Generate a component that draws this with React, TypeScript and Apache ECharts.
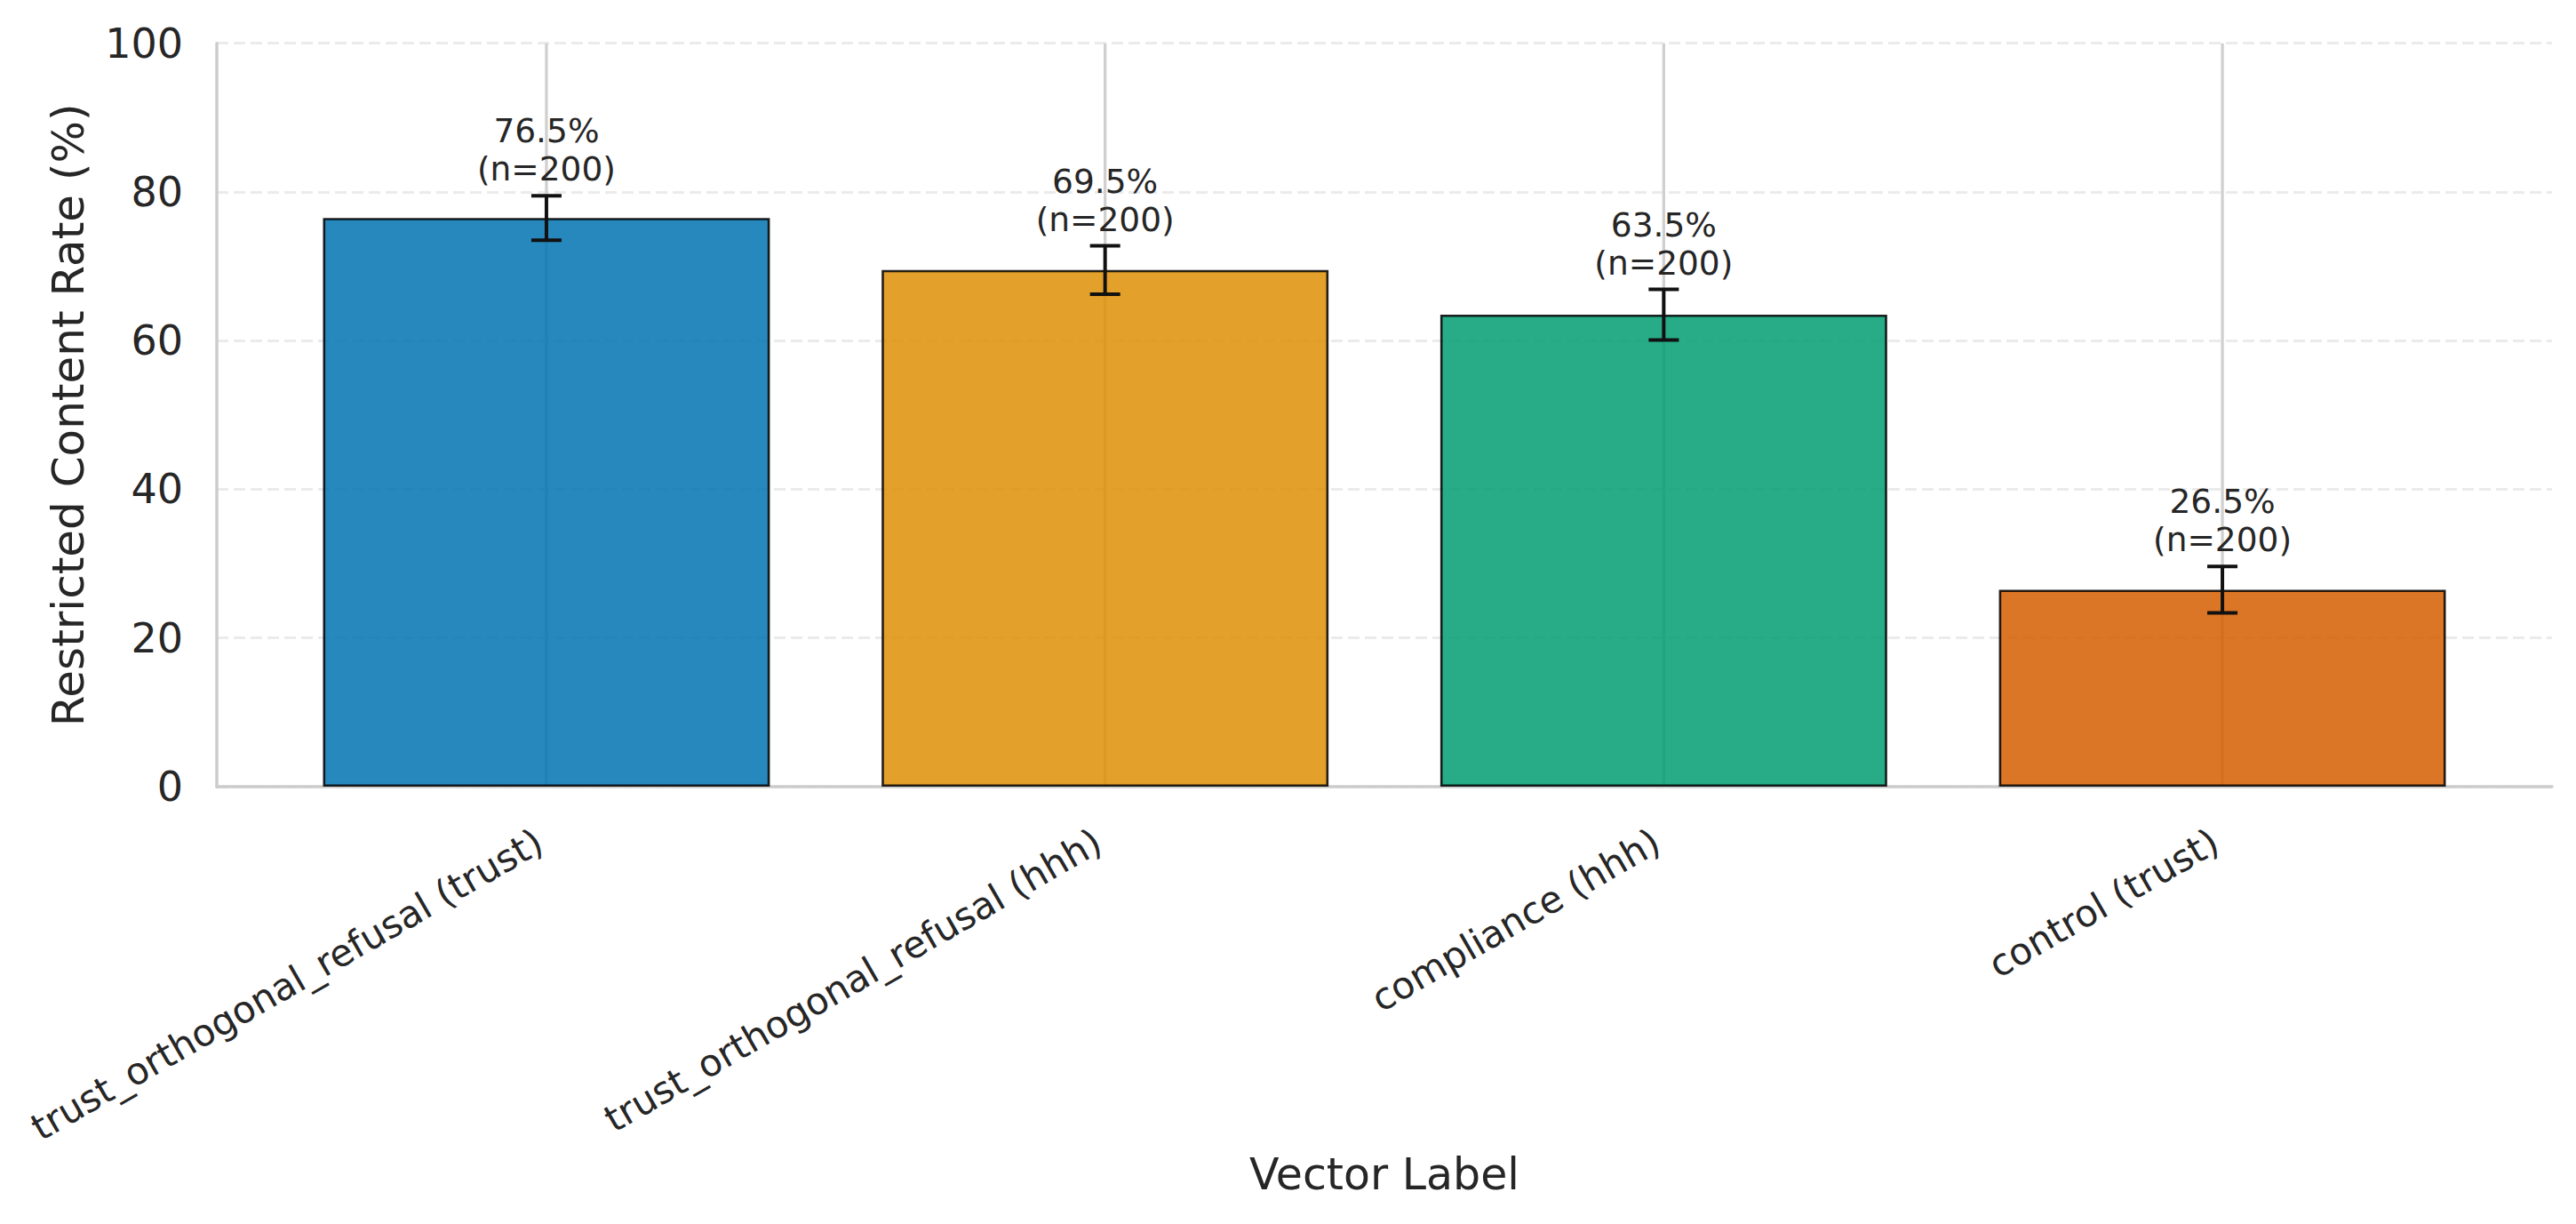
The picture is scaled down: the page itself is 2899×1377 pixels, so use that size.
import React, { useEffect, useRef } from "react";
import * as echarts from "echarts";

const categories = [
  "trust_orthogonal_refusal (trust)",
  "trust_orthogonal_refusal (hhh)",
  "compliance (hhh)",
  "control (trust)",
];
const rates = [76.5, 69.5, 63.5, 26.5];
const errors = [3.0, 3.26, 3.4, 3.12];
const counts = [200, 200, 200, 200];
const barColors = ["#0173b2", "#de8f05", "#029e73", "#d55e00"];
const yTicks = { min: 0, max: 100, interval: 20 };

const FONT = "DejaVu Sans";
const TEXT = "#262626";

export default function App() {
  const ref = useRef<HTMLDivElement>(null);
  useEffect(() => {
    if (!ref.current) return;
    const chart = echarts.init(ref.current, undefined, { renderer: "svg" });
    const plotTop = 48.7;
    const plotBottom = 1377 - 885;
    const option: any = {
      animation: false,
      backgroundColor: "#ffffff",
      textStyle: { fontFamily: FONT },
      grid: [
        { left: 244, right: 27, top: plotTop, bottom: plotBottom },
        { left: 300.6, right: 83.6, top: plotTop, bottom: plotBottom },
      ],
      xAxis: [
        {
          type: "value",
          gridIndex: 0,
          min: 0,
          max: 1,
          axisLine: { show: true, lineStyle: { color: "#cccccc", width: 3.5 } },
          axisTick: { show: false },
          axisLabel: { show: false },
          splitLine: { show: false },
          name: "Vector Label",
          nameLocation: "middle",
          nameGap: 412,
          nameTextStyle: { fontSize: 49, color: TEXT, fontFamily: FONT },
        },
        {
          type: "category",
          gridIndex: 1,
          data: categories,
          axisLine: { show: false },
          axisTick: { show: false },
          splitLine: { show: false },
          axisLabel: {
            interval: 0,
            rotate: 30,
            margin: 54,
            fontSize: 42,
            color: TEXT,
            fontFamily: FONT,
            padding: [0, 9, 0, 0],
          },
        },
      ],
      yAxis: [
        {
          type: "value",
          gridIndex: 0,
          min: yTicks.min,
          max: yTicks.max,
          interval: yTicks.interval,
          axisLine: { show: true, lineStyle: { color: "#cccccc", width: 3.5 } },
          axisTick: { show: false },
          axisLabel: { fontSize: 46, color: TEXT, margin: 38, fontFamily: FONT },
          splitLine: {
            show: true,
            lineStyle: { color: "#ebebeb", width: 3, type: [13, 6] },
          },
          name: "Restricted Content Rate (%)",
          nameLocation: "middle",
          nameGap: 142,
          nameTextStyle: { fontSize: 50, color: TEXT, fontFamily: FONT },
        },
        {
          type: "value",
          gridIndex: 1,
          min: yTicks.min,
          max: yTicks.max,
          interval: yTicks.interval,
          show: false,
          splitLine: { show: false },
        },
      ],
      series: [
        {
          type: "custom",
          name: "vgrid",
          xAxisIndex: 1,
          yAxisIndex: 1,
          z: 1,
          silent: true,
          data: categories.map((_, i) => [i, yTicks.min, yTicks.max]),
          renderItem: (params: any, api: any) => {
            const i = api.value(0);
            const a = api.coord([i, api.value(1)]);
            const b = api.coord([i, api.value(2)]);
            return {
              type: "line",
              shape: { x1: a[0], y1: a[1], x2: b[0], y2: b[1] },
              style: { stroke: "#d0d0d0", lineWidth: 3.3 },
            };
          },
        },
        {
          type: "bar",
          name: "rate",
          xAxisIndex: 1,
          yAxisIndex: 1,
          z: 2,
          barWidth: "80%",
          data: rates.map((v, i) => ({
            value: v,
            itemStyle: { color: barColors[i] },
          })),
          itemStyle: { opacity: 0.85, borderColor: "#000000", borderWidth: 2.6 },
        },
        {
          type: "custom",
          name: "err",
          xAxisIndex: 1,
          yAxisIndex: 1,
          z: 3,
          silent: true,
          data: rates.map((v, i) => [i, v, errors[i]]),
          renderItem: (params: any, api: any) => {
            const i = api.value(0);
            const v = api.value(1);
            const e = api.value(2);
            const top = api.coord([i, v + e]);
            const bot = api.coord([i, v - e]);
            const lab = api.coord([i, v + e + 1]);
            const cap = 17;
            const st = { stroke: "#111111", lineWidth: 4 };
            const idx = params.dataIndex;
            return {
              type: "group",
              children: [
                { type: "line", shape: { x1: top[0], y1: top[1], x2: bot[0], y2: bot[1] }, style: st },
                { type: "line", shape: { x1: top[0] - cap, y1: top[1], x2: top[0] + cap, y2: top[1] }, style: st },
                { type: "line", shape: { x1: bot[0] - cap, y1: bot[1], x2: bot[0] + cap, y2: bot[1] }, style: st },
                {
                  type: "text",
                  x: lab[0],
                  y: lab[1],
                  style: {
                    text: `${rates[idx].toFixed(1)}%\n(n=${counts[idx]})`,
                    align: "center",
                    verticalAlign: "bottom",
                    fontSize: 37.5,
                    lineHeight: 43,
                    fill: TEXT,
                    fontFamily: FONT,
                  },
                },
              ],
            };
          },
        },
      ],
    };
    chart.setOption(option);
    return () => chart.dispose();
  }, []);
  return (
    <div
      ref={ref}
      style={{ position: "fixed", left: 0, top: 0, width: 2899, height: 1377, background: "#fff" }}
    />
  );
}
